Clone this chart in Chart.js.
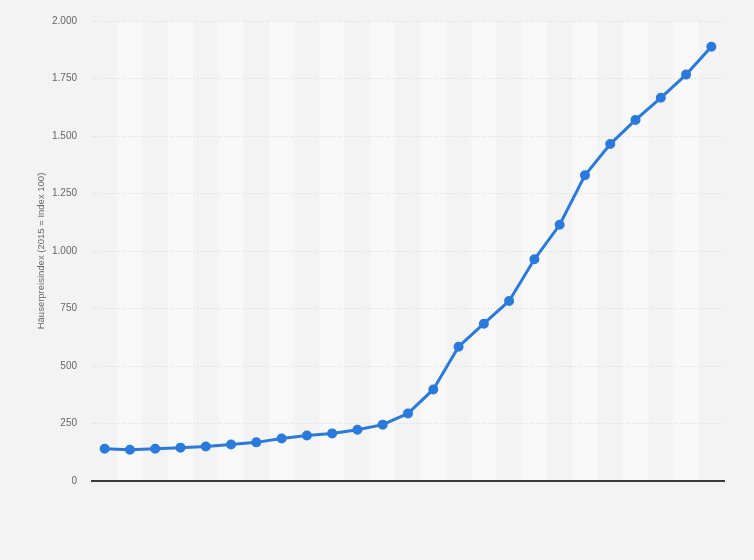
<!DOCTYPE html>
<html>
<head>
<meta charset="utf-8">
<script src="https://cdn.jsdelivr.net/npm/chart.js@4/dist/chart.umd.min.js"></script>
<style>
  html, body { margin: 0; padding: 0; background: #f3f3f3; }
  #wrap { width: 754px; height: 560px; }
</style>
</head>
<body>
<div id="wrap"><canvas id="myChart" width="754" height="560"></canvas></div>
<script>
// Jahre (auf der Achse nicht beschriftet)
const categories = ["1997", "1998", "1999", "2000", "2001", "2002", "2003", "2004", "2005", "2006",
  "2007", "2008", "2009", "2010", "2011", "2012", "2013", "2014", "2015", "2016",
  "2017", "2018", "2019", "2020", "2021"];
const indexValues = [140, 136, 140, 145, 150, 159, 168, 185, 198, 207,
  223, 245, 294, 398, 584, 684, 783, 964, 1114, 1329,
  1465, 1570, 1666, 1767, 1888];
const yTicks = [0, 250, 500, 750, 1000, 1250, 1500, 1750, 2000];
const yTitle = "Häuserpreisindex (2015 = Index 100)";

// abwechselnde Spalten im Hintergrund
const bandsPlugin = {
  id: "bands",
  beforeDraw(chart) {
    const { ctx, chartArea, scales } = chart;
    const x = scales.x;
    const step = x.width / categories.length;
    ctx.save();
    for (let i = 0; i < categories.length; i++) {
      ctx.fillStyle = i % 2 === 1 ? "#f8f8f8" : "#f3f3f3";
      ctx.fillRect(x.left + i * step, chartArea.top, step, chartArea.bottom - chartArea.top);
    }
    ctx.restore();
  }
};

const fmt = new Intl.NumberFormat("de-DE");

const ctx = document.getElementById("myChart");

new Chart(ctx, {
  type: "line",
  data: {
    labels: categories,
    datasets: [
      {
        data: indexValues,
        borderColor: "#2a7ade",
        backgroundColor: "#2a7ade",
        borderWidth: 3,
        pointRadius: 3.5,
        pointHoverRadius: 3.5,
        tension: 0,
      },
    ],
  },
  options: {
    responsive: false,
    animation: false,
    layout: { padding: { top: 20, right: 30, bottom: 79, left: 0 } },
    plugins: {
      legend: { display: false },
      tooltip: { enabled: false },
    },
    scales: {
      x: {
        offset: true,
        grid: { display: false, drawTicks: false },
        border: { display: true, color: "#3a3a3a", width: 2 },
        ticks: { display: false },
      },
      y: {
        min: 0,
        max: 2000,
        afterFit(scale) { scale.width = 92; },
        afterBuildTicks(scale) { scale.ticks = yTicks.map(v => ({ value: v })); },
        border: { display: false, dash: [1, 2] },
        grid: {
          color: "#d6d6d6",
          drawTicks: false,
          lineWidth: 1,
        },
        ticks: {
          padding: 15,
          color: "#666",
          font: { family: "Liberation Sans", size: 10 },
          callback: v => fmt.format(v),
        },
        title: {
          display: true,
          text: yTitle,
          color: "#666",
          font: { family: "Liberation Sans", size: 9.5 },
          padding: { top: 36, bottom: 0 },
        },
      },
    },
  },
  plugins: [bandsPlugin],
});
</script>
</body>
</html>
